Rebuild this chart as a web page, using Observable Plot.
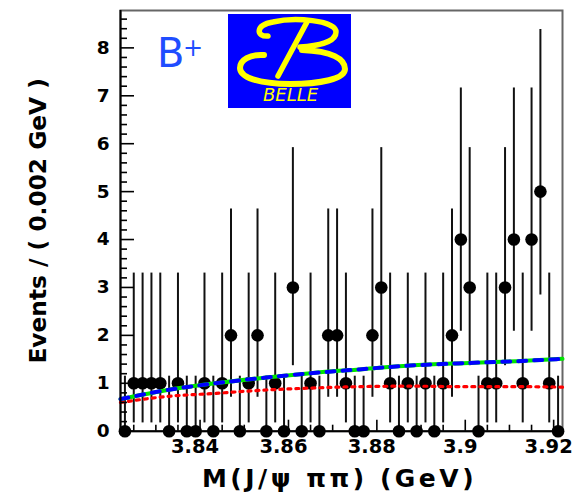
<!DOCTYPE html>
<html><head><meta charset="utf-8">
<script src="https://cdn.jsdelivr.net/npm/d3@7"></script>
<script src="https://cdn.jsdelivr.net/npm/@observablehq/plot@0.6"></script>
<style>
html,body{margin:0;padding:0;background:#fff;}
#wrap{position:relative;width:578px;height:495px;overflow:hidden;}
#wrap svg text{font-family:"DejaVu Sans",sans-serif;}
#overlay{position:absolute;left:0;top:0;pointer-events:none;}
</style></head><body><div id="wrap"></div>
<script>
// ---- data ----
const massBins = [3.823,3.825,3.827,3.829,3.831,3.833,3.835,3.837,3.839,3.841,
  3.843,3.845,3.847,3.849,3.851,3.853,3.855,3.857,3.859,3.861,
  3.863,3.865,3.867,3.869,3.871,3.873,3.875,3.877,3.879,3.881,
  3.883,3.885,3.887,3.889,3.891,3.893,3.895,3.897,3.899,3.901,
  3.903,3.905,3.907,3.909,3.911,3.913,3.915,3.917,3.919,3.921];
const counts = [0,1,1,1,1,0,1,0,0,1, 0,1,2,0,1,2,0,1,0,3,
  0,1,0,2,2,1,0,0,2,3, 1,0,1,0,1,0,1,2,4,3, 0,1,1,3,4,1,4,5,1,0];
// Poisson error interval ends, by count
const errLow  = [0, 0.173, 0.708, 1.367, 2.086, 2.840];
const errHigh = [1.148, 3.300, 4.638, 5.918, 7.163, 8.382];
// fit curves
const fitX     = [3.822, 3.832, 3.8435, 3.855, 3.865, 3.876, 3.8875, 3.8995, 3.9115, 3.922];
const totalFit = [0.67, 0.85, 1.00, 1.12, 1.21, 1.29, 1.37, 1.42, 1.46, 1.51];
const bkgFit   = [0.60, 0.72, 0.79, 0.86, 0.90, 0.93, 0.94, 0.93, 0.93, 0.92];
// ticks
const xMajor = [3.84, 3.86, 3.88, 3.90, 3.92];
const xLabels = ["3.84", "3.86", "3.88", "3.9", "3.92"];
const xMinor = [3.825,3.83,3.835,3.845,3.85,3.855,3.865,3.87,3.875,3.885,3.89,3.895,3.905,3.91,3.915];
const yMajor = [0,1,2,3,4,5,6,7,8];
const yLabels = ["0","1","2","3","4","5","6","7","8"];
const yMinor = d3.range(0.2, 8.7, 0.2).filter(v => Math.abs(v - Math.round(v)) > 0.05);
const xTitle = "M(J/ψ ππ) (GeV)";
const yTitle = "Events / ( 0.002 GeV )";

// ---- layout ----
const W = 578, H = 495, mL = 120, mR = 16, mT = 10, mB = 64.3;
const innerW = W - mL - mR, innerH = H - mT - mB;

const pts = massBins.map((m, i) => ({m, n: counts[i], lo: errLow[counts[i]], hi: errHigh[counts[i]]}));
const tot = fitX.map((x, i) => ({x, y: totalFit[i]}));
const bkg = fitX.map((x, i) => ({x, y: bkgFit[i]}));

const bold = {fontWeight: "bold", fontFamily: "DejaVu Sans, sans-serif"};

const chart = Plot.plot({
  width: W, height: H,
  marginLeft: mL, marginRight: mR, marginTop: mT, marginBottom: mB,
  x: {domain: [3.822, 3.922], axis: null},
  y: {domain: [0, 8.78], axis: null},
  style: {background: "white", overflow: "visible"},
  marks: [
    Plot.frame({stroke: "#666", strokeWidth: 2}),
    // error bars and points
    Plot.ruleX(pts, {x: "m", y1: "lo", y2: "hi", stroke: "#111", strokeWidth: 2}),
    Plot.dot(pts, {x: "m", y: "n", r: 6.3, fill: "black", stroke: "none"}),
    // fit curves
    Plot.line(bkg, {x: "x", y: "y", stroke: "#ff0000", strokeWidth: 3.2, strokeDasharray: "3,5", curve: "monotone-x"}),
    Plot.line(tot, {x: "x", y: "y", stroke: "#00e600", strokeWidth: 4, curve: "monotone-x"}),
    Plot.line(tot, {x: "x", y: "y", stroke: "#0000ff", strokeWidth: 4, strokeDasharray: "8,8", curve: "monotone-x"}),
    // axes lines
    Plot.ruleX([3.822], {stroke: "black", strokeWidth: 2}),
    Plot.ruleY([0], {stroke: "black", strokeWidth: 2}),
    // inward ticks
    Plot.tickX(xMajor, {x: d => d, insetTop: innerH - 11, stroke: "black", strokeWidth: 1.6}),
    Plot.tickX(xMinor, {x: d => d, insetTop: innerH - 6, stroke: "black", strokeWidth: 1.6}),
    Plot.tickY(yMajor, {y: d => d, insetRight: innerW - 14, stroke: "black", strokeWidth: 1.6}),
    Plot.tickY(yMinor, {y: d => d, insetRight: innerW - 7, stroke: "black", strokeWidth: 1.6}),
    // tick labels
    Plot.axisX(xMajor, {tickSize: 0, tickPadding: 8, tickFormat: (d, i) => xLabels[i], fontSize: 19.5, dx: -5, ...bold, fill: "black"}),
    Plot.axisY(yMajor, {tickSize: 0, tickPadding: 11, tickFormat: (d, i) => yLabels[i], fontSize: 18.5, ...bold, fill: "black", label: null}),
    // axis titles
    Plot.text([xTitle], {text: d => d, frameAnchor: "bottom", dx: -2, dy: 48, lineAnchor: "middle", fontSize: 25, ...bold, fill: "black"}),
    Plot.text([yTitle], {text: d => d, frameAnchor: "left", dx: -82, rotate: -90, lineAnchor: "middle", textAnchor: "middle", fontSize: 23.3, ...bold, fill: "black"})
  ]
});
document.getElementById("wrap").appendChild(chart);
// widen the x title's letter spacing like the original
chart.querySelectorAll("text").forEach(t => {
  if (t.textContent === xTitle) t.style.letterSpacing = "3.5px";
});

// ---- decorations: B+ label and Belle logo ----
const ns = "http://www.w3.org/2000/svg";
const ov = document.createElementNS(ns, "svg");
ov.setAttribute("id", "overlay");
ov.setAttribute("width", W); ov.setAttribute("height", H);
ov.innerHTML = `
  <text x="157" y="67" font-family="Liberation Sans, Arial, sans-serif" font-size="40" fill="#1f4dff">B</text>
  <text x="183" y="55.5" font-family="Liberation Sans, Arial, sans-serif" font-size="24" fill="#1f4dff">+</text>
  <g transform="translate(228,14)">
    <rect x="0" y="0" width="123" height="94" fill="#0000ff"/>
    <g fill="none" stroke="#ffff00" stroke-linecap="round">
      <path d="M40,22 C28,23 27,11 45,8 C66,3 108,6 108,18 C108,28 90,32 72,33" stroke-width="5.5"/>
      <path d="M74,36 C104,37 117,45 117,55 C117,65 92,70 62,70 C30,70 12,63 12,54 C12,46 22,40 36,41" stroke-width="6"/>
      <path d="M79,8 L50,62" stroke-width="5.5"/>
    </g>
    <text x="35" y="86.5" font-family="Liberation Sans, Arial, sans-serif" font-style="italic" font-size="18" fill="#ffff00">BELLE</text>
  </g>`;
document.getElementById("wrap").appendChild(ov);
</script></body></html>
